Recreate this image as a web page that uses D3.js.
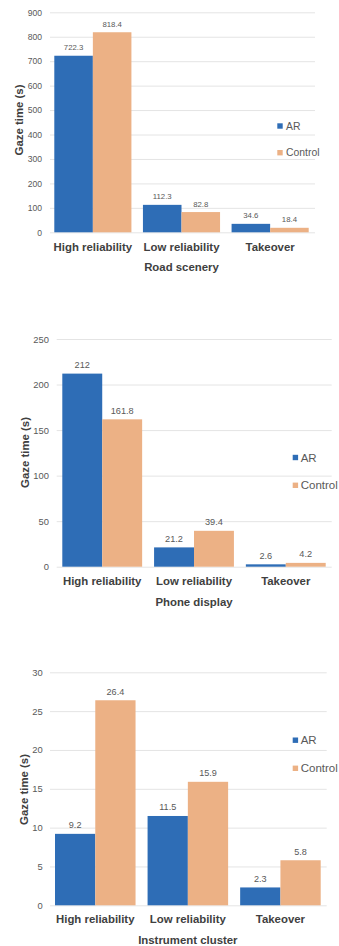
<!DOCTYPE html>
<html>
<head>
<meta charset="utf-8">
<script src="https://cdn.jsdelivr.net/npm/d3@7"></script>
<style>
  body { margin: 0; background: #fff; }
  text { font-family: 'Liberation Sans', Arial, sans-serif; }
</style>
</head>
<body>
<script>
var categories = ['High reliability', 'Low reliability', 'Takeover'];
var seriesNames = ['AR', 'Control'];

var roadAR = [722.3, 112.3, 34.6];
var roadControl = [818.4, 82.8, 18.4];
var roadTicks = [0, 100, 200, 300, 400, 500, 600, 700, 800, 900];

var phoneAR = [212, 21.2, 2.6];
var phoneControl = [161.8, 39.4, 4.2];
var phoneTicks = [0, 50, 100, 150, 200, 250];

var clusterAR = [9.2, 11.5, 2.3];
var clusterControl = [26.4, 15.9, 5.8];
var clusterTicks = [0, 5, 10, 15, 20, 25, 30];

var colors = ['#2e6db6', '#ecb185'];

var svg = d3.select('body')
  .append('svg')
  .attr('width', 339)
  .attr('height', 946);

/* ===== one panel ===== */

function drawPanel(opt) {
  var g = svg.append('g');

  var yScale = d3.scaleLinear()
    .domain([0, opt.ticks[opt.ticks.length - 1]])
    .range([opt.yBottom, opt.yTop]);

  var xScale = d3.scaleBand()
    .domain(categories)
    .range([opt.barLeft, opt.barRight])
    .paddingInner(0.13);

  var subScale = d3.scaleBand()
    .domain(seriesNames)
    .range([0, xScale.bandwidth()]);

  // gridlines + tick labels
  var yAxis = d3.axisLeft(yScale)
    .tickValues(opt.ticks)
    .tickSize(-(opt.gridRight - opt.gridLeft))
    .tickPadding(opt.tickPad);

  var axisG = g.append('g')
    .attr('transform', 'translate(' + opt.gridLeft + ',0)')
    .call(yAxis);
  axisG.select('.domain').remove();
  axisG.selectAll('line').attr('stroke', '#e4e4e4');
  axisG.selectAll('text')
    .attr('fill', '#595959')
    .style('font-size', opt.tickFont + 'px')
    .style('font-family', "'Liberation Sans', Arial, sans-serif");

  // bars
  var rows = categories.map(function(c, i) {
    return { cat: c, values: [opt.ar[i], opt.control[i]] };
  });

  var groups = g.selectAll('.grp').data(rows)
    .enter()
    .append('g')
    .attr('class', 'grp')
    .attr('transform', function(d) {
      return 'translate(' + xScale(d.cat) + ',0)';
    });

  groups.selectAll('rect')
    .data(function(d) {
      return d.values.map(function(v, j) { return { s: seriesNames[j], v: v, j: j }; });
    })
    .enter()
    .append('rect')
    .attr('x', function(d) { return subScale(d.s); })
    .attr('y', function(d) { return yScale(d.v); })
    .attr('width', subScale.bandwidth())
    .attr('height', function(d) { return yScale(0) - yScale(d.v); })
    .attr('fill', function(d) { return colors[d.j]; });

  groups.selectAll('.val')
    .data(function(d) {
      return d.values.map(function(v, j) { return { s: seriesNames[j], v: v }; });
    })
    .enter()
    .append('text')
    .attr('class', 'val')
    .attr('x', function(d) { return subScale(d.s) + subScale.bandwidth() / 2; })
    .attr('y', function(d) { return yScale(d.v) - 5.5; })
    .attr('text-anchor', 'middle')
    .attr('fill', '#595959')
    .style('font-size', opt.valFont + 'px')
    .text(function(d) { return String(d.v); });

  // category labels
  g.selectAll('.cat').data(categories)
    .enter()
    .append('text')
    .attr('x', function(d) { return xScale(d) + xScale.bandwidth() / 2; })
    .attr('y', opt.catY)
    .attr('text-anchor', 'middle')
    .attr('fill', '#404040')
    .style('font-size', '11.4px')
    .style('font-weight', 'bold')
    .text(function(d) { return d; });

  // x title
  g.append('text')
    .attr('x', (opt.barLeft + opt.barRight) / 2)
    .attr('y', opt.titleY)
    .attr('text-anchor', 'middle')
    .attr('fill', '#404040')
    .style('font-size', '11.4px')
    .style('font-weight', 'bold')
    .text(opt.title);

  // y title
  g.append('text')
    .attr('transform', 'translate(' + opt.yTitleX + ',' + opt.yTitleY + ') rotate(-90)')
    .attr('text-anchor', 'middle')
    .attr('fill', '#404040')
    .style('font-size', '11.4px')
    .style('font-weight', 'bold')
    .text('Gaze time (s)');

  // legend
  var leg = g.selectAll('.leg').data(seriesNames)
    .enter()
    .append('g')
    .attr('class', 'leg')
    .attr('transform', function(d, i) {
      return 'translate(' + opt.legX + ',' + (opt.legY + i * opt.legGap) + ')';
    });
  leg.append('rect')
    .attr('x', 0)
    .attr('y', -2.7)
    .attr('width', 5.4)
    .attr('height', 5.4)
    .attr('fill', function(d, i) { return colors[i]; });
  leg.append('text')
    .attr('x', opt.legTextDx)
    .attr('y', 0)
    .attr('dy', '0.35em')
    .attr('fill', '#595959')
    .style('font-size', opt.legFont + 'px')
    .text(function(d) { return d; });
}

drawPanel({
  ar: roadAR, control: roadControl, ticks: roadTicks, title: 'Road scenery',
  yTop: 12.3, yBottom: 232.3, gridLeft: 50, gridRight: 315, tickPad: 8, tickFont: 8.6,
  barLeft: 54.3, barRight: 308.7, valFont: 7.8, catY: 250.6, titleY: 270.6,
  yTitleX: 23, yTitleY: 120, legX: 277.3, legY: 126, legGap: 26.7, legTextDx: 8.7, legFont: 10.4
});

drawPanel({
  ar: phoneAR, control: phoneControl, ticks: phoneTicks, title: 'Phone display',
  yTop: 339, yBottom: 566.7, gridLeft: 56.7, gridRight: 331.7, tickPad: 7.7, tickFont: 9.4,
  barLeft: 62.3, barRight: 325.7, valFont: 9.2, catY: 585, titleY: 606,
  yTitleX: 29, yTitleY: 452.5, legX: 292.7, legY: 457.5, legGap: 27.8, legTextDx: 8, legFont: 11.5
});

drawPanel({
  ar: clusterAR, control: clusterControl, ticks: clusterTicks, title: 'Instrument cluster',
  yTop: 672.3, yBottom: 905.3, gridLeft: 50, gridRight: 326.7, tickPad: 7.3, tickFont: 9.4,
  barLeft: 55, barRight: 320.7, valFont: 9.1, catY: 923.3, titleY: 944,
  yTitleX: 28, yTitleY: 789.5, legX: 292.7, legY: 740.2, legGap: 28.1, legTextDx: 8, legFont: 11.5
});
</script>
</body>
</html>
